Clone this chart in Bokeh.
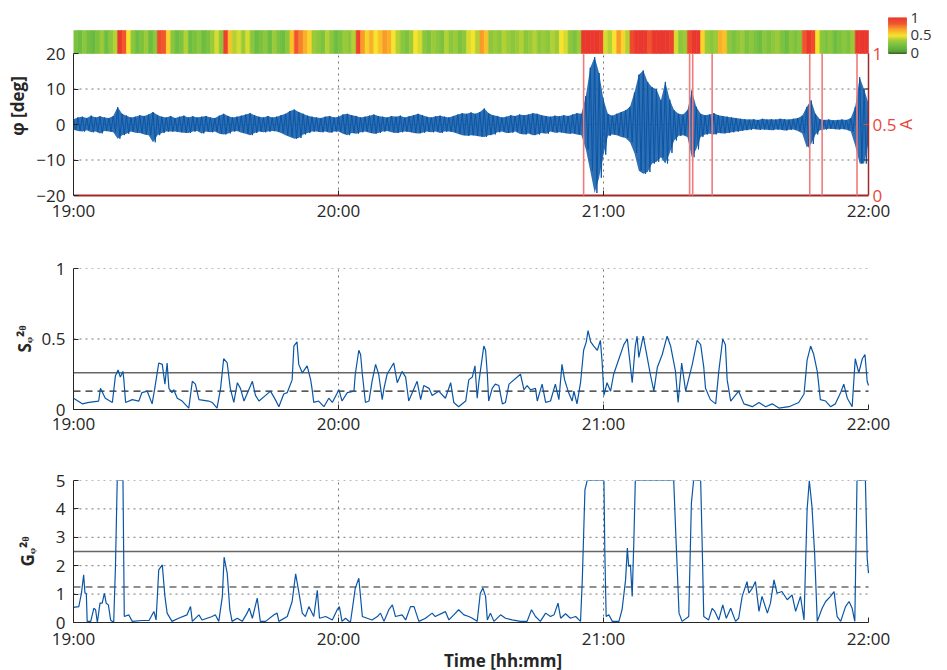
import numpy as np
from bokeh.plotting import figure
from bokeh.layouts import column
from bokeh.models import Range1d, FixedTicker, ColumnDataSource, Label
from bokeh.transform import linear_cmap
from bokeh.embed import file_html
from bokeh.resources import INLINE

FONT = "Open Sans"
BLUE = "#0a56a6"
TXT = "#262626"
RED_TXT = "#e8473e"
DARK_RED = "#a0282a"
ALARM = "#ef7b7b"
DOT = "2 4"

# ---------------- data ----------------
hours = [0, 60, 120, 180]                      # minutes after 19:00
hour_labels = ["19:00", "20:00", "21:00", "22:00"]

phi_ticks = [-20, -10, 0, 10, 20]
a_ticks = [0, 0.5, 1]
a_labels = ["0", "0.5", "1"]
s_ticks = [0, 0.5, 1]
g_ticks = [0, 1, 2, 3, 4, 5]
cb_ticks = [0, 0.5, 1]
cb_labels = ["0", "0.5", "1"]

# phi signal envelope, one value per minute (upper / lower extremes, deg)
phi_up = [1.5, 2.0, 2.2, 1.8, 2.5, 2.0, 2.3, 2.0, 1.8, 2.4,
          4.9, 3.0, 2.5, 2.0, 2.2, 2.6, 2.4, 2.8, 3.5, 2.7,
          2.2, 2.0, 2.4, 1.8, 2.2, 2.5, 2.0, 2.3, 2.0, 2.2,
          2.4, 2.0, 1.8, 2.5, 3.0, 2.4, 2.0, 2.2, 2.5, 2.8,
          3.2, 2.6, 2.2, 2.0, 2.4, 2.0, 2.2, 2.6, 3.0, 3.8,
          4.2, 3.5, 3.0, 2.5, 2.2, 2.0, 1.8, 2.2, 2.4, 2.0,
          2.2, 2.8, 3.0, 2.6, 2.4, 2.0, 2.2, 2.5, 2.8, 2.4,
          2.2, 2.0, 2.4, 2.2, 2.5, 2.0, 2.3, 2.6, 3.0, 2.6,
          2.2, 2.0, 2.3, 2.5, 2.2, 2.0, 2.4, 2.8, 3.2, 3.0,
          3.4, 3.0, 3.5, 4.5, 3.2, 2.6, 2.4, 2.0, 2.2, 2.6,
          2.4, 2.8, 2.6, 2.8, 3.2, 3.0, 2.6, 2.4, 2.2, 2.5,
          2.3, 2.6, 2.4, 2.8, 3.2, 3.0, 8.0, 16.0, 19.0, 14.5,
          7.0, 3.0, 2.5, 3.0, 3.5, 4.0, 5.0, 9.0, 14.0, 15.2,
          12.0, 10.5, 9.9, 6.8, 12.0, 7.0, 4.0, 3.0, 2.8, 4.0,
          9.6, 5.0, 3.0, 2.6, 2.8, 3.2, 2.6, 2.4, 2.2, 2.0,
          1.8, 1.6, 1.5, 1.4, 1.5, 1.3, 1.6, 1.4, 1.5, 1.4,
          1.6, 1.5, 1.4, 1.6, 1.8, 2.5, 4.9, 6.8, 3.0, 1.5,
          1.3, 1.4, 1.2, 1.3, 1.4, 1.3, 1.8, 5.0, 13.3, 9.9, 6.0]
phi_lo = [-1.5, -1.8, -2.0, -1.6, -2.2, -2.0, -2.5, -1.8, -2.0, -2.2,
          -4.0, -3.0, -2.6, -2.0, -2.3, -2.4, -2.8, -3.0, -5.0, -3.0,
          -2.4, -2.0, -2.0, -2.0, -2.2, -2.3, -2.4, -2.0, -1.8, -2.5,
          -2.0, -2.2, -2.0, -2.6, -2.8, -2.5, -2.0, -1.8, -2.3, -2.6,
          -3.0, -2.4, -2.0, -2.2, -2.0, -1.8, -2.0, -2.4, -3.0, -3.5,
          -4.0, -3.8, -2.8, -2.4, -2.0, -2.0, -2.2, -2.0, -2.3, -2.0,
          -2.0, -2.6, -3.0, -2.4, -2.6, -2.2, -2.0, -2.3, -2.6, -2.4,
          -2.0, -1.8, -2.2, -2.4, -2.2, -2.0, -2.1, -2.4, -2.5, -2.3,
          -2.0, -2.2, -2.0, -2.4, -2.0, -2.0, -2.2, -2.6, -3.0, -3.2,
          -3.0, -3.2, -3.4, -3.5, -3.0, -2.8, -2.2, -2.0, -2.4, -2.3,
          -2.0, -2.6, -2.8, -2.5, -3.0, -2.8, -2.4, -2.6, -2.0, -2.3,
          -2.2, -2.4, -2.6, -2.5, -2.8, -3.0, -7.0, -13.0, -19.3, -15.0,
          -8.5, -3.2, -2.8, -3.0, -3.5, -3.8, -5.0, -8.0, -13.0, -13.9,
          -13.4, -11.0, -10.5, -9.2, -11.0, -8.0, -4.5, -3.2, -3.0, -3.5,
          -9.2, -7.0, -3.5, -2.8, -2.6, -2.8, -2.4, -2.5, -2.4, -2.2,
          -2.0, -1.8, -1.6, -1.5, -1.3, -1.5, -1.4, -1.5, -1.6, -1.4,
          -1.5, -1.7, -1.5, -1.4, -1.8, -2.5, -6.4, -5.5, -2.8, -1.6,
          -1.4, -1.2, -1.3, -1.4, -1.3, -1.5, -2.0, -6.0, -11.0, -11.0, -5.0]

# per-minute index shown in the colour strip (0..1)
strip_v = [.25, .2, .3, .22, .18, .25, .35, .2, .3, .4,
           1, .85, .5, .3, .2, .25, .35, .2, .3, .9,
           .85, .55, .3, .2, .25, .4, .2, .25, .3, .2,
           .25, .35, .45, .3, .95, .6, .4, .45, .35, .45,
           .3, .2, .25, .3, .2, .35, .25, .2, .3, .6,
           .85, .75, .65, .55, .35, .3, .25, .4, .3, .2,
           .25, .35, .3, .4, .95, .7, .55, .65, .5, .6,
           .7, .65, .5, .4, .3, .25, .35, .5, .45, .3,
           .25, .35, .3, .25, .4, .3, .35, .25, .3, .45,
           .5, .4, .7, .6, .3, .35, .3, .4, .35, .3,
           .35, .4, .3, .35, .4, .3, .35, .3, .4, .35,
           .5, .45, .3, .25, .35, 1, 1, 1, 1, .95,
           .45, .4, .5, .7, .55, .4, .9, 1, 1, 1,
           .85, 1, 1, 1, 1, .95, .45, .3, .35, .9,
           1, 1, .55, .35, .3, .35, .65, .6, .3, .25,
           .3, .35, .25, .3, .25, .2, .3, .25, .3, .35,
           .25, .2, .3, .25, .3, .85, 1, .9, .5, .3,
           .25, .3, .2, .25, .3, .25, .35, 1, 1, 1]

# alarm (A = 1) instants, minutes after 19:00
alarm_t = [115.5, 139.5, 140.2, 144.6, 166.7, 169.5, 177.4]

# S index (minute, value)
s_points = [(0, .08), (2.0, .04), (3.5, .05), (5.7, .06), (6.1, .15), (7.2, .08), (8.8, .05),
            (9.5, .24), (10.1, .28), (10.6, .23), (11.2, .27), (11.4, .21), (11.8, .05), (13.3, .07),
            (14.8, .06), (15.5, .12), (16.7, .13), (17.8, .04), (18.4, .15), (19.3, .33), (20.1, .32),
            (20.7, .18), (21.2, .33), (21.6, .15), (22.3, .12), (22.7, .14), (23.5, .08), (24.6, .06),
            (26.1, .01), (26.9, .20), (27.6, .18), (28.4, .07), (30.6, .06), (31.4, .05), (32.5, .01),
            (33.3, .15), (34.0, .36), (34.8, .33), (35.5, .15), (36.3, .05), (37.1, .19), (37.8, .15),
            (38.6, .06), (40.5, .20), (41.2, .10), (42.0, .06), (43.5, .10), (44.6, .13), (45.7, .07),
            (46.5, .02), (47.6, .11), (48.4, .12), (49.5, .21), (49.9, .45), (50.6, .48), (51.0, .32),
            (51.8, .26), (52.9, .31), (53.7, .21), (54.0, .15), (54.4, .05), (55.5, .06), (56.7, .02),
            (57.8, .08), (58.6, .05), (60.1, .14), (60.8, .06), (62.0, .12), (63.5, .13), (63.8, .25),
            (64.6, .42), (65.0, .39), (65.4, .25), (66.1, .05), (66.9, .06), (67.6, .20), (68.4, .32),
            (69.1, .25), (69.9, .07), (70.3, .15), (71.0, .25), (72.5, .33), (73.3, .19), (74.4, .27),
            (75.2, .23), (75.9, .06), (77.8, .20), (78.6, .07), (79.3, .17), (80.5, .15), (81.2, .10),
            (82.7, .13), (84.2, .08), (85.4, .19), (86.1, .05), (87.2, .02), (88.8, .06), (89.5, .21),
            (90.3, .23), (90.9, .31), (91.4, .08), (91.8, .20), (92.9, .45), (93.3, .42), (93.7, .25),
            (94.0, .06), (94.8, .15), (95.5, .18), (96.3, .17), (97.1, .04), (97.8, .05), (98.6, .18),
            (101.2, .25), (102.0, .14), (102.7, .17), (103.5, .14), (104.6, .15), (105.0, .06),
            (106.1, .18), (106.9, .05), (108.0, .06), (109.1, .18), (109.9, .07), (110.6, .32),
            (111.2, .21), (112.1, .12), (112.9, .06), (113.3, .13), (114.0, .04), (114.8, .19),
            (115.5, .42), (116.1, .48), (116.5, .56), (117.1, .48), (117.8, .45), (118.6, .42),
            (119.3, .49), (119.7, .33), (120.1, .10), (120.8, .19), (121.6, .13), (122.3, .25),
            (123.5, .36), (124.6, .46), (125.4, .50), (126.5, .19), (127.2, .45), (127.6, .52),
            (128.0, .37), (129.0, .52), (129.9, .37), (130.6, .25), (131.4, .13), (132.2, .30),
            (133.3, .39), (134.4, .52), (135.2, .45), (136.3, .27), (136.9, .05), (137.7, .33),
            (138.6, .13), (140.1, .32), (141.2, .49), (142.0, .46), (142.7, .30), (143.1, .15),
            (144.2, .07), (145.4, .04), (146.1, .27), (147.0, .50), (147.6, .46), (148.0, .21),
            (148.8, .06), (150.6, .13), (151.8, .04), (153.7, .02), (155.2, .05), (156.7, .02),
            (158.2, .04), (159.7, .01), (162.0, .02), (164.2, .05), (165.4, .11), (166.1, .35),
            (166.9, .45), (167.6, .39), (168.4, .27), (169.1, .07), (170.3, .06), (171.4, .02),
            (172.5, .04), (173.7, .12), (174.4, .18), (175.2, .08), (176.3, .02), (177.0, .36),
            (177.8, .26), (178.6, .36), (179.2, .39), (179.7, .20), (180.0, .17)]
s_solid = 0.26
s_dashed = 0.13

# G index (minute, value), clipped at 5
g_points = [(0, .53), (1.2, .56), (1.8, 1.03), (2.3, 1.68), (2.6, 1.03), (2.9, 1.03), (3.1, .04),
            (3.9, .04), (4.6, .50), (5.0, .45), (5.4, 0), (6.0, .68), (6.5, .68), (7.0, 1.03),
            (7.4, .68), (7.9, .62), (8.4, .09), (9.1, 0), (9.5, 1.97), (9.9, 5), (11.2, 5),
            (11.5, .21), (12.5, .27), (13.3, .04), (15.5, .07), (17.1, .07), (18.2, .39), (18.7, .09),
            (19.3, 1.85), (20.1, 2.03), (20.7, .92), (21.2, .33), (22.3, .04), (23.8, .15),
            (25.7, .27), (26.5, .56), (26.9, .04), (28.4, .27), (29.1, .09), (31.4, .21), (32.1, .27),
            (32.9, .04), (33.7, .92), (34.1, 2.30), (34.8, 1.74), (35.4, .45), (35.9, .04),
            (37.1, .15), (38.2, .04), (39.3, .33), (39.8, .50), (40.5, .15), (41.6, .86), (42.3, .04),
            (43.5, .04), (45.4, .27), (46.1, .33), (46.5, .04), (48.4, .21), (49.5, .74), (50.3, 1.71),
            (51.0, 1.09), (51.8, .33), (52.5, .21), (53.3, .56), (54.4, .21), (55.2, 1.13),
            (55.7, .15), (57.1, .21), (58.6, .09), (59.7, .45), (60.2, .56), (60.8, .04), (61.6, .15),
            (62.7, 0), (63.8, 1.21), (64.6, 1.56), (65.4, .21), (66.5, .15), (67.6, .09), (68.8, .21),
            (69.5, .33), (70.3, .04), (71.4, .45), (72.2, .62), (72.9, .21), (74.4, .27), (75.2, .09),
            (76.3, .56), (77.1, .56), (78.2, .04), (79.7, .15), (81.2, .33), (81.9, .21), (83.5, .33),
            (84.2, .39), (85.0, .09), (86.1, .27), (87.2, .45), (88.4, .27), (89.5, .21), (90.3, .15),
            (91.4, .04), (92.1, 1.03), (92.7, 1.21), (93.3, .92), (93.7, .09), (94.4, .33), (95.2, .04),
            (96.7, .27), (97.8, .15), (99.3, .09), (101.2, .04), (102.7, .04), (103.7, .45),
            (104.6, .21), (105.7, .04), (106.9, .33), (108.0, .21), (108.8, .27), (109.7, .68),
            (110.3, .15), (111.4, .31), (112.5, .15), (113.7, .21), (114.8, .04), (115.2, 1.50),
            (115.8, 4.67), (116.3, 5), (120.1, 5), (120.3, 2.50), (120.6, .21), (121.2, .27),
            (122.0, .04), (123.5, .04), (124.2, .45), (125.0, 1.50), (125.4, 2.62), (125.7, 1.97),
            (126.1, 2.03), (126.5, .92), (126.9, 3.03), (127.2, 5), (135.9, 5), (136.3, 3.38),
            (137.1, .33), (137.8, .04), (139.3, .21), (139.9, 4.20), (140.4, 5), (142.0, 5),
            (142.3, 3.03), (142.7, .21), (143.8, .09), (144.6, .50), (145.2, .39), (146.1, .09),
            (147.0, .62), (147.8, .15), (148.8, .50), (149.9, .04), (150.6, .15), (151.4, .92),
            (152.5, 1.44), (152.9, 1.03), (153.7, 1.21), (154.4, 1.44), (155.2, .39), (155.9, .92),
            (157.1, .33), (157.8, .68), (158.6, 1.50), (159.3, 1.03), (160.4, 1.09), (161.6, .80),
            (162.7, .97), (163.5, .39), (164.6, .92), (165.4, .09), (166.1, 3.97), (166.6, 5),
            (167.2, 4.08), (167.8, 2.44), (168.4, .04), (169.5, .50), (170.3, .74), (171.4, .92),
            (172.2, 1.09), (172.9, .21), (173.7, .04), (174.8, .56), (175.6, .74), (176.3, .50),
            (176.9, .04), (177.4, 5), (179.3, 5), (179.7, 2.27), (180.0, 1.74)]
g_solid = 2.5
g_dashed = 1.25

# ---------------- layout constants (pixels) ----------------
FIG_W = 932          # every figure: frame from x=73 to x=932
LEFT = 73
FRAME_W = FIG_W - LEFT
PXM = 795 / 180.0    # 19:00 at x=73, 22:00 at x=868
X_END = FRAME_W / PXM
PX_DEG = 3.55        # pixels per degree in top panel
TOP_BORDER = 8
BELOW = 8            # frame pixels below -20 deg (room for the red "0")
TOP_FRAME_H = 187 + BELOW
TOP_BOTTOM = 235 - TOP_BORDER - TOP_FRAME_H
Y_TOP_START = -20 - BELOW / PX_DEG
Y_TOP_END = Y_TOP_START + TOP_FRAME_H / PX_DEG


def px_to_t(px):
    return (px - 73) / PXM


# palette green -> yellow -> red
anchors = [(0.0, (78, 150, 48)), (0.2, (108, 189, 66)), (0.38, (165, 205, 55)),
           (0.5, (246, 228, 45)), (0.68, (250, 165, 40)), (0.85, (240, 85, 45)),
           (1.0, (234, 56, 46))]
palette = []
for k in range(256):
    f = k / 255
    for (a, ca), (b, cb) in zip(anchors[:-1], anchors[1:]):
        if a <= f <= b:
            w = (f - a) / (b - a)
            c = tuple(int(round(ca[j] + w * (cb[j] - ca[j]))) for j in range(3))
            break
    palette.append("#%02x%02x%02x" % c)


def style_common(p):
    p.outline_line_color = None
    p.background_fill_color = "white"
    p.border_fill_color = "white"
    p.ygrid.visible = False
    for ax in p.axis:
        ax.major_label_text_font = FONT
        ax.major_label_text_font_size = "17px"
        ax.major_label_text_color = TXT
        ax.axis_label_text_font = FONT
        ax.axis_label_text_font_size = "17px"
        ax.axis_label_text_font_style = "bold"
        ax.axis_label_text_color = TXT
        ax.axis_line_color = TXT
        ax.major_tick_line_color = TXT
        ax.major_tick_in = 5
        ax.major_tick_out = 0
        ax.minor_tick_line_color = None
    p.xaxis.ticker = FixedTicker(ticks=hours)
    p.xaxis.major_label_overrides = dict(zip(hours, hour_labels))
    p.xaxis.bounds = (0, 180)


grid_style = dict(line_color="#555555", line_dash=DOT, line_width=1, line_alpha=0.8)
vx = [h for h in hours if 0 < h < 180]

# ---------------- top panel ----------------
p1 = figure(width=FIG_W, height=TOP_BORDER + TOP_FRAME_H + TOP_BOTTOM,
            x_range=Range1d(0, X_END), y_range=Range1d(Y_TOP_START, Y_TOP_END),
            output_backend="svg", toolbar_location=None,
            min_border_left=LEFT, min_border_right=0, min_border_top=TOP_BORDER,
            min_border_bottom=TOP_BOTTOM)
p1.extra_y_ranges = {"A": Range1d((Y_TOP_START + 20) / 40.0, (Y_TOP_END + 20) / 40.0)}
style_common(p1)
p1.xgrid.visible = False
p1.yaxis.ticker = FixedTicker(ticks=phi_ticks)
p1.yaxis.major_label_overrides = {t: (str(t) if t >= 0 else "\u2212" + str(-t)) for t in phi_ticks}
p1.yaxis.bounds = (-20, 20)
p1.yaxis.axis_label = "\u03c6 [deg]"
# x axis sits at the frame bottom (a few px under -20); only its labels are shown
p1.xaxis.axis_line_color = None
p1.xaxis.major_tick_line_color = None
p1.xaxis.major_label_standoff = 3 - BELOW
p1.yaxis.major_label_standoff = 8
p1.yaxis.axis_label_standoff = 4

# A = 0 base line along -20 deg, dark red
p1.segment(x0=[0], x1=[180], y0=[0], y1=[0], y_range_name="A", line_color=DARK_RED, line_width=2)

# dotted grid (inside the -20..20 box only)
hy = [t for t in phi_ticks if -20 < t < 20]
p1.segment(x0=[0] * len(hy), x1=[180] * len(hy), y0=hy, y1=hy, **grid_style)
p1.segment(x0=vx, x1=vx, y0=[-20] * len(vx), y1=[20] * len(vx), **grid_style)

# colour strip above the box
strip_t = np.arange(len(strip_v))
strip_src = ColumnDataSource(dict(left=strip_t, right=strip_t + 1, v=strip_v))
cmap = linear_cmap("v", palette, 0, 1)
p1.quad(left="left", right="right", bottom=20, top=20 + 23 / PX_DEG, source=strip_src,
        fill_color=cmap, line_color=cmap, line_width=0.6)

# colour bar
cb_n = 60
cb_lo = 20.1
cb_hi = 30.05
cb_edges = np.linspace(cb_lo, cb_hi, cb_n + 1)
cb_src = ColumnDataSource(dict(bottom=cb_edges[:-1], top=cb_edges[1:],
                               v=(np.arange(cb_n) + 0.5) / cb_n))
cb_x0 = px_to_t(888)
cb_x1 = px_to_t(906)
p1.quad(left=cb_x0, right=cb_x1, bottom="bottom", top="top", source=cb_src,
        fill_color=cmap, line_color=cmap, line_width=0.6)
p1.segment(x0=[cb_x0], x1=[cb_x1], y0=[cb_lo], y1=[cb_lo], line_color="#3d6b25", line_width=1.5)
for tv, tl in zip(cb_ticks, cb_labels):
    p1.add_layout(Label(x=px_to_t(910), y=cb_lo + tv * (cb_hi - cb_lo), text=tl,
                        text_align="left", text_baseline="middle", text_font=FONT,
                        text_font_size="15px", text_color="#333333"))

# phi signal: dense band between per-minute extremes plus the zig-zag through them
phi_t = np.arange(len(phi_up))
p1.varea(x=phi_t, y1=phi_lo, y2=phi_up, fill_color=BLUE, fill_alpha=0.85)
zx, zy = [], []
for i, (u, l) in enumerate(zip(phi_up, phi_lo)):
    zx += [i, i + 0.5]
    zy += [u, l]
p1.line(zx[:-1], zy[:-1], line_color=BLUE, line_width=1.0)

# alarms (A = 1)
p1.segment(x0=alarm_t, x1=alarm_t, y0=[0] * len(alarm_t), y1=[1] * len(alarm_t),
           y_range_name="A", line_color=ALARM, line_width=1.6)

# right-hand A axis (drawn by hand at 22:00)
p1.segment(x0=[180], x1=[180], y0=[-20], y1=[20], line_color=DARK_RED, line_width=1.5)
tick_len = 5 / PXM
rt = [t for t in phi_ticks if t not in (-20, 0, 20)]
p1.segment(x0=[180 - tick_len] * len(rt), x1=[180] * len(rt), y0=rt, y1=rt, line_color=TXT, line_width=1)
p1.segment(x0=[180 - tick_len], x1=[180], y0=[0.5], y1=[0.5], y_range_name="A",
           line_color=RED_TXT, line_width=1)
p1.segment(x0=vx, x1=vx, y0=[-20] * len(vx), y1=[-20 + 5 / PX_DEG] * len(vx), line_color=TXT, line_width=1)
for tv, tl in zip(a_ticks, a_labels):
    p1.add_layout(Label(x=px_to_t(872), y=tv, y_range_name="A", text=tl,
                        text_align="left", text_baseline="middle", text_font=FONT,
                        text_font_size="17px", text_color=RED_TXT))
p1.add_layout(Label(x=px_to_t(905), y=0.5, y_range_name="A", text="A", angle=np.pi / 2,
                    text_align="center", text_baseline="middle", text_font=FONT,
                    text_font_size="17px", text_color=RED_TXT))


# ---------------- lower panels ----------------
def lower_fig(ymax, ticks, label, top_border, bottom_border, frame_h, xlabel=None):
    p = figure(width=FIG_W, height=top_border + frame_h + bottom_border,
               x_range=Range1d(0, X_END), y_range=Range1d(0, ymax),
               output_backend="svg", toolbar_location=None,
               min_border_left=LEFT, min_border_right=0,
               min_border_top=top_border, min_border_bottom=bottom_border)
    style_common(p)
    p.yaxis.ticker = FixedTicker(ticks=ticks)
    p.yaxis.major_label_overrides = {t: ("%g" % t) for t in ticks}
    p.yaxis.axis_label = label
    if xlabel:
        p.xaxis.axis_label = xlabel
    p.xaxis.major_label_standoff = 2
    p.yaxis.major_label_standoff = 8
    p.xgrid.ticker = FixedTicker(ticks=vx)
    p.xgrid.grid_line_color = "#555555"
    p.xgrid.grid_line_dash = DOT
    p.xgrid.grid_line_alpha = 0.8
    gy = [t for t in ticks if t > 0]
    p.segment(x0=[0] * len(gy), x1=[180] * len(gy), y0=gy, y1=gy, **grid_style)
    return p


p2 = lower_fig(1, s_ticks, "S\u1d69\u00b2\u1dbf", 33, 36, 141)
p2.yaxis.axis_label_standoff = 3
s_t = [a for a, b in s_points]
s_v = [b for a, b in s_points]
p2.line([0, 180], [s_solid, s_solid], line_color="#666666", line_width=1.5)
p2.line([0, 180], [s_dashed, s_dashed], line_color="#222222", line_width=1.2, line_dash="7 5")
p2.line(s_t, s_v, line_color=BLUE, line_width=1.2)

p3 = lower_fig(5, g_ticks, "G\u1d69\u00b2\u1dbf", 35, 52, 142, xlabel="Time [hh:mm]")
p3.yaxis.axis_label_standoff = 14
p3.xaxis.major_label_standoff = 4
p3.xaxis.axis_label_standoff = -4
g_t = [a for a, b in g_points]
g_v = [b for a, b in g_points]
p3.line([0, 180], [g_solid, g_solid], line_color="#666666", line_width=1.5)
p3.line([0, 180], [g_dashed, g_dashed], line_color="#222222", line_width=1.2, line_dash="7 5")
p3.line(g_t, g_v, line_color=BLUE, line_width=1.2)

layout = column(p1, p2, p3, spacing=0)
open("out.html", "w").write(file_html(layout, INLINE))
